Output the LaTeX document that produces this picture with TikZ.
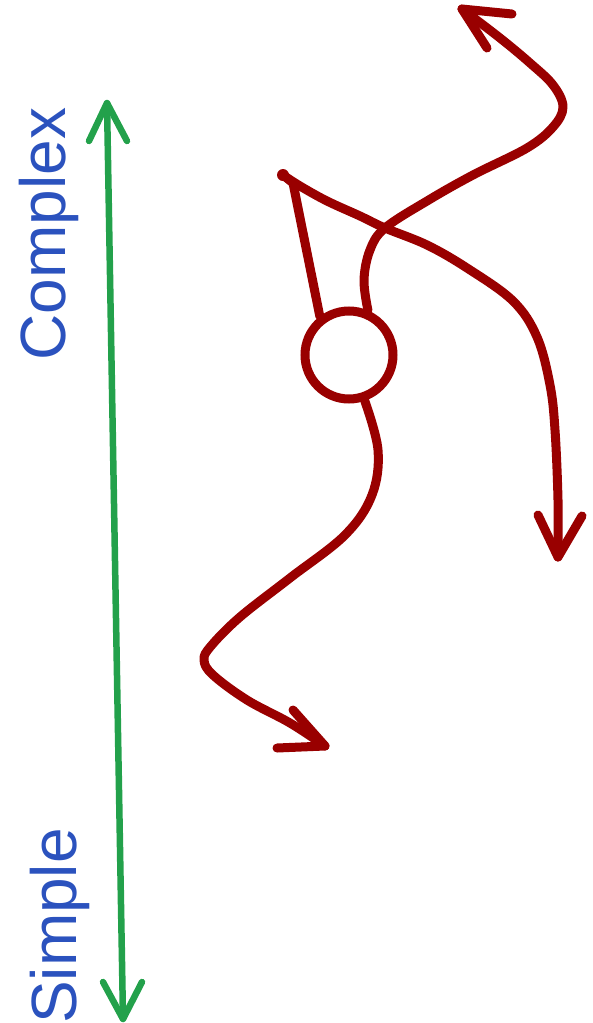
\documentclass[tikz,border=0pt]{standalone}
\usepackage{fontspec}
\setmainfont{Liberation Sans}
\definecolor{sketchred}{HTML}{990000}
\definecolor{axisgreen}{HTML}{23A14B}
\definecolor{labelblue}{HTML}{2B52BE}
\begin{document}
\begin{tikzpicture}[x=1pt,y=-1pt,
  redline/.style={draw=sketchred,line width=9pt,line cap=round,line join=round},
  greenline/.style={draw=axisgreen,line width=6.5pt,line cap=round,line join=round},
  label/.style={text=labelblue,font=\fontsize{64}{64}\selectfont,rotate=90,anchor=base,inner sep=0pt}]
\useasboundingbox (0,0) rectangle (592,1023);
% axis
\coordinate (gtop) at (107,103);
\coordinate (gbot) at (123,1019);
\draw[greenline] (gtop) -- (gbot);
\draw[greenline] (89,141) -- (gtop) -- (127,141);
\draw[greenline] (103,982) -- (gbot) -- (142,982);
\node[label] (complex) at (65,234) {Complex};
\node[label] (simple) at (76,926) {Simple};
% circle
\node[circle,draw=sketchred,line width=9pt,minimum size=88pt,inner sep=0pt] (c) at (349,355) {};
% start blob
\coordinate (s) at (283,175);
\fill[sketchred] (s) circle (6pt);
\draw[redline] (c.127) -- (293,183) -- (s);
% long curve to right arrow
\coordinate (t1) at (558,557);
\draw[redline] plot[smooth,tension=0.6] coordinates {(s) (300,186) (327,201) (360,216) (385,228) (427,245) (467,268) (513,301) (537,337) (550,385) (555,430) (558,500) (t1)};
\draw[redline] (538,515) -- (t1) -- (582,516);
% curve from circle top to top arrow
\coordinate (t2) at (462,9);
\draw[redline] plot[smooth,tension=0.6] coordinates {(c.67) (364,280) (370,250) (385,228) (427,201) (473,175) (527,148) (553,127) (563,107) (553,85) (530,63) (500,38) (t2)};
\draw[redline] (512,14) -- (t2) -- (487,48);
% curve from circle bottom to bottom arrow
\coordinate (t3) at (325,746);
\draw[redline] plot[smooth,tension=0.6] coordinates {(c.-71) (378,450) (372,495) (345,535) (290,578) (240,617) (211,646) (204,660) (213,675) (247,700) (290,723) (t3)};
\draw[redline] (277,748) -- (t3) -- (293,710);
\end{tikzpicture}
\end{document}
